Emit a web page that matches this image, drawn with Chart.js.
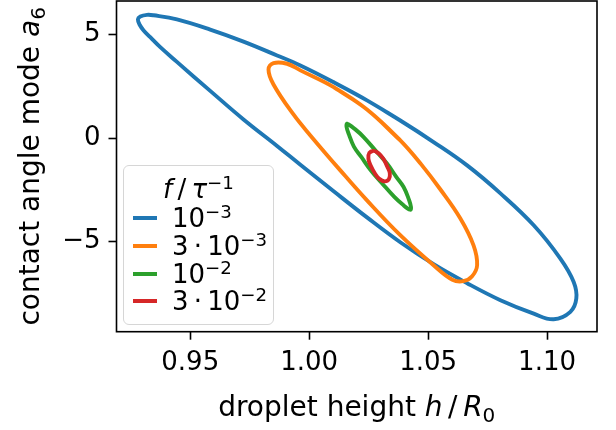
<!DOCTYPE html>
<html>
<head>
<meta charset="utf-8">
<title>droplet height vs contact angle mode</title>
<script src="https://cdn.jsdelivr.net/npm/chart.js@4.4.1/dist/chart.umd.min.js"></script>
<style>
  html, body { margin: 0; padding: 0; background: #fff; }
  #wrap { position: relative; width: 616px; height: 430px; }
  #legend {
    position: absolute; left: 123px; top: 165px; width: 151px; height: 160px;
    box-sizing: border-box; border: 1.5px solid #d6d6d6; border-radius: 6px;
    background: rgba(255,255,255,0.8);
    font-family: 'DejaVu Sans', sans-serif; font-size: 26px; color: #000;
  }
  #legend .row { position: absolute; left: 0; height: 30px; line-height: 30px; white-space: nowrap; }
  #legend .swatch { position: absolute; left: 9px; top: 13px; width: 24px; height: 4px; }
  #legend .txt { position: absolute; left: 48px; top: 0; }
  #legend .title { position: absolute; left: 0; width: 100%; top: 8px; height: 30px; line-height: 30px; text-align: center; }
  .sup { font-size: 0.7em; position: relative; top: -0.5em; }
  .it { font-style: italic; }
</style>
</head>
<body>
<div id="wrap">
  <canvas id="chart" width="616" height="430"></canvas>
  <div id="legend"></div>
</div>
<script>
// h / R0 and a6, one array pair per forcing
const blueH = [1.0243, 1.0383, 1.0523, 1.0664, 1.0804, 1.0944, 1.1056, 1.1112, 1.1123, 1.1098,
               1.1028, 1.0944, 1.0804, 1.0664, 1.0523, 1.0383, 1.0243, 1.0103, 0.9963, 0.9865,
               0.9724, 0.9584, 0.9444, 0.9374, 0.9332, 0.9304, 0.9288, 0.9280, 0.9290, 0.9318,
               0.9346, 0.9444, 0.9584, 0.9724, 0.9865, 0.9963, 1.0103];
const blueA = [1.82, 0.85, -0.19, -1.32, -2.67, -4.21, -5.82, -6.95, -7.75, -8.39,
               -8.75, -8.48, -7.83, -7.01, -6.09, -5.03, -3.83, -2.57, -1.29, -0.38,
               0.90, 2.28, 3.68, 4.39, 4.87, 5.20, 5.46, 5.73, 5.87, 5.95,
               5.93, 5.73, 5.24, 4.66, 3.99, 3.51, 2.70];

const orangeH = [1.0243, 1.0383, 1.0471, 1.0551, 1.0635, 1.0691, 1.0706, 1.0685, 1.0648, 1.0602,
                 1.0523, 1.0383, 1.0243, 1.0131, 1.0005, 0.9934, 0.9850, 0.9829, 0.9850, 0.9907,
                 0.9963, 1.0103];
const orangeA = [1.38, -0.11, -1.27, -2.47, -3.87, -5.18, -6.14, -6.67, -6.91, -6.84,
                 -6.14, -4.69, -3.01, -1.56, 0.13, 1.14, 2.59, 3.31, 3.62, 3.59,
                 3.27, 2.46];

const greenH = [1.0160, 1.0194, 1.0229, 1.0278, 1.0327, 1.0366, 1.0397, 1.0419, 1.0428, 1.0425,
                1.0392, 1.0357, 1.0307, 1.0258, 1.0219, 1.0188, 1.0167, 1.0157];
const greenA = [0.69, 0.42, 0.05, -0.59, -1.23, -1.87, -2.36, -2.96, -3.33, -3.46,
                -3.20, -2.83, -2.19, -1.54, -0.91, -0.41, 0.18, 0.55];

const redH = [1.0271, 1.0293, 1.0312, 1.0328, 1.0339, 1.0335, 1.0318, 1.0295, 1.0276, 1.0259, 1.0249, 1.0253];
const redA = [-0.62, -0.74, -1.00, -1.37, -1.70, -1.99, -2.09, -1.97, -1.70, -1.34, -1.00, -0.71];

const xTicks = [0.95, 1.00, 1.05, 1.10];
const yTicks = [-5, 0, 5];

const seriesColors = ['#1f77b4', '#ff7f0e', '#2ca02c', '#d62728'];
const legendMantissa = ['', '3', '', '3'];
const legendExponent = ['\u22123', '\u22123', '\u22122', '\u22122'];

// axis titles as [text, style] pieces: '' plain, 'i' italic, 'sub' subscript
const xTitle = [['droplet height ', ''], ['h', 'i'], ['\u2009/\u2009', ''], ['R', 'i'], ['0', 'sub']];
const yTitle = [['contact angle mode ', ''], ['a', 'i'], ['6', 'sub']];

const FONT = "'DejaVu Sans', sans-serif";
Chart.defaults.font.family = FONT;
Chart.defaults.color = '#000';

// closed curve: wrap one point on each side so the spline has no seam
function toLoop(hs, as) {
  const pts = hs.map((h, i) => ({ x: h, y: as[i] }));
  const n = pts.length;
  return [pts[n - 1], ...pts, pts[0], pts[1]];
}

function curve(hs, as, color, order) {
  return {
    data: toLoop(hs, as),
    showLine: true,
    borderColor: color,
    borderWidth: 3.9,
    pointRadius: 0,
    pointHoverRadius: 0,
    tension: 0.4,
    fill: false,
    order,
  };
}

function pieceFont(style, size) {
  if (style === 'i') return 'italic ' + size + 'px ' + FONT;
  if (style === 'sub') return Math.round(size * 0.7) + 'px ' + FONT;
  return size + 'px ' + FONT;
}

function drawRich(ctx, pieces, size) {
  let total = 0;
  pieces.forEach(([t, s]) => { ctx.font = pieceFont(s, size); total += ctx.measureText(t).width; });
  let x = -total / 2;
  pieces.forEach(([t, s]) => {
    ctx.font = pieceFont(s, size);
    ctx.fillText(t, x, s === 'sub' ? size * 0.2 : 0);
    x += ctx.measureText(t).width;
  });
}

// matplotlib style box around the plot area, plus the axis titles
const framePlugin = {
  id: 'frame',
  afterDraw(chart) {
    const { ctx, chartArea: { left, top, right, bottom } } = chart;
    ctx.save();
    ctx.strokeStyle = '#000';
    ctx.lineWidth = 1.6;
    ctx.strokeRect(left, top, right - left, bottom - top);

    ctx.fillStyle = '#000';
    ctx.textBaseline = 'alphabetic';
    ctx.textAlign = 'left';
    ctx.save();
    ctx.translate((left + right) / 2, 416);
    drawRich(ctx, xTitle, 28);
    ctx.restore();
    ctx.save();
    ctx.translate(39, (top + bottom) / 2);
    ctx.rotate(-Math.PI / 2);
    drawRich(ctx, yTitle, 28);
    ctx.restore();
    ctx.restore();
  },
};

const tickStyle = {
  drawOnChartArea: false,
  drawTicks: true,
  tickLength: 8,
  tickWidth: 1.6,
  tickColor: '#000',
};

new Chart(document.getElementById('chart'), {
  type: 'scatter',
  data: {
    datasets: [
      curve(blueH, blueA, seriesColors[0], 3),
      curve(orangeH, orangeA, seriesColors[1], 2),
      curve(greenH, greenA, seriesColors[2], 1),
      curve(redH, redA, seriesColors[3], 0),
    ],
  },
  plugins: [framePlugin],
  options: {
    responsive: false,
    animation: false,
    devicePixelRatio: 1,
    layout: { padding: { top: 1, right: 19, left: 0, bottom: 0 } },
    plugins: { legend: { display: false }, tooltip: { enabled: false } },
    scales: {
      x: {
        type: 'linear',
        min: 0.919,
        max: 1.121,
        afterFit(scale) {
          scale.height = 98.3;
          scale.paddingLeft = 0;
          scale.paddingRight = 0;
        },
        afterBuildTicks(scale) { scale.ticks = xTicks.map(v => ({ value: v })); },
        grid: tickStyle,
        border: { display: false },
        ticks: {
          padding: 8,
          maxRotation: 0,
          font: { size: 26 },
          callback: v => v.toFixed(2),
        },
      },
      y: {
        type: 'linear',
        min: -9.35,
        max: 6.62,
        afterFit(scale) {
          scale.width = 116.5;
          scale.paddingTop = 0;
          scale.paddingBottom = 0;
        },
        afterBuildTicks(scale) { scale.ticks = yTicks.map(v => ({ value: v })); },
        grid: tickStyle,
        border: { display: false },
        ticks: {
          padding: 8,
          font: { size: 26 },
          callback: v => (v < 0 ? '\u2212' + Math.abs(v) : String(v)),
        },
      },
    },
  },
});

// legend box drawn inside the plot area, as in the original figure
const legend = document.getElementById('legend');
legend.innerHTML = '<div class="title"><span class="it">f</span>&thinsp;/&thinsp;<span class="it">\u03c4</span><span class="sup">\u22121</span></div>';
const rowTops = [37, 65, 93, 120];
seriesColors.forEach((c, i) => {
  const row = document.createElement('div');
  row.className = 'row';
  row.style.top = rowTops[i] + 'px';
  const m = legendMantissa[i] ? legendMantissa[i] + '&thinsp;\u00b7&thinsp;' : '';
  row.innerHTML = '<div class="swatch" style="background:' + c + '"></div>' +
    '<div class="txt">' + m + '10<span class="sup">' + legendExponent[i] + '</span></div>';
  legend.appendChild(row);
});
</script>
</body>
</html>
